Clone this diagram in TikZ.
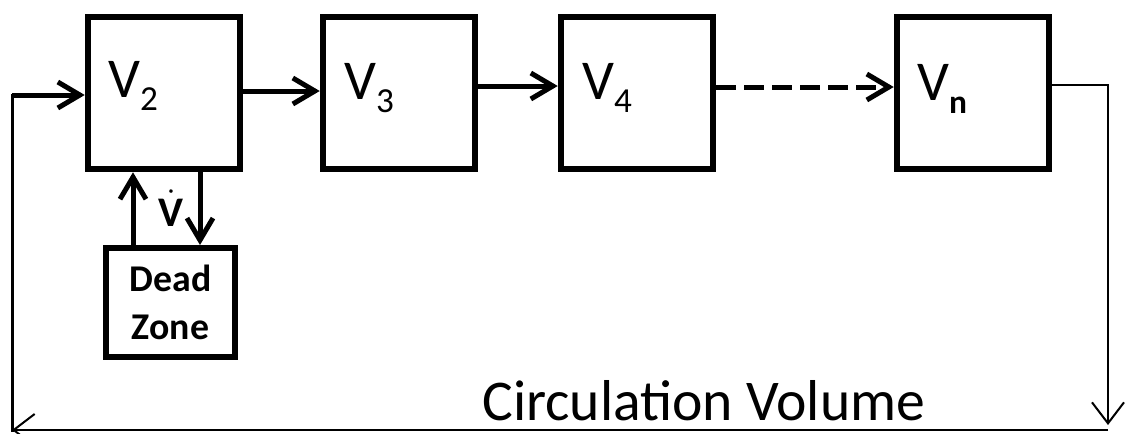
\documentclass[tikz,border=0pt]{standalone}
\usepackage{fontspec}
\setmainfont{Carlito}
\usetikzlibrary{arrows.meta}

\tikzset{
  vol/.style={draw,line width=1.3mm,minimum width=30.4mm,minimum height=30.4mm,inner sep=0pt},
  dead/.style={draw,line width=1.2mm,minimum width=25.8mm,minimum height=21.8mm,inner sep=0pt,align=center,
    font=\fontsize{21.5}{27}\selectfont\bfseries},
  vlab/.style={anchor=base west,inner sep=0pt,font=\fontsize{32}{32}\selectfont},
  flow/.style={line width=1mm,-{Straight Barb[length=4.4mm,width=5.2mm]}},
  back/.style={line width=.4mm,-{Straight Barb[length=4.2mm,width=6.4mm]}}
}
\newcommand\vsub[1]{\raisebox{-7.4pt}{\fontsize{20}{20}\selectfont#1}}

\begin{document}
\begin{tikzpicture}[x=.2mm,y=-.2mm]
\useasboundingbox (0,0) rectangle (1125,433);
% volumes
\node[vol] (V2) at (164,93) {};
\node[vol] (V3) at (399,93) {};
\node[vol] (V4) at (637,93) {};
\node[vol] (Vn) at (973,93) {};
\node[vlab] (L2) at ([xshift=4.6mm,yshift=-.9mm]V2.west) {V\vsub{2}};
\node[vlab] (L3) at ([xshift=4.8mm,yshift=-1.2mm]V3.west) {V\vsub{3}};
\node[vlab] (L4) at ([xshift=4.8mm,yshift=-1.2mm]V4.west) {V\vsub{4}};
\node[vlab] (Ln) at ([xshift=4.6mm,yshift=-1.4mm]Vn.west) {V\raisebox{-7.4pt}{\fontsize{19}{19}\selectfont\bfseries n}};
\node[dead] (DZ) at (170.5,302.5) {Dead\\Zone};
\node[inner sep=0pt,font=\fontsize{24}{24}\selectfont\bfseries] (vd) at (171,208) {$\dot{\mbox{V}}$};
\node[anchor=base west,inner sep=0pt,font=\fontsize{32.8}{32.8}\selectfont] (cv) at (482,420) {Circulation Volume};
% forward flow
\draw[flow] ([yshift=.4mm]V2.east) -- ([yshift=.4mm]V3.west);
\draw[flow] ([yshift=1.4mm]V3.east) -- ([yshift=1.4mm]V4.west);
\draw[flow,dash pattern=on 4mm off 1.6mm] ([yshift=1.2mm]V4.east) -- ([yshift=1.2mm]Vn.west);
% exchange with dead zone
\coordinate (up) at ([xshift=-7.5mm]DZ.north);
\coordinate (dn) at ([xshift=5.9mm]DZ.north);
\draw[flow] (up) -- (up |- V2.south);
\draw[flow] (dn |- V2.south) -- (dn);
% return path
\coordinate (r1) at (1108,85);
\coordinate (r2) at (1108,425);
\coordinate (b1) at (12,430);
\coordinate (l1) at (12,95);
\draw[back] (Vn.east |- r1) -- (r1) -- (r2);
\draw[back] (r2 |- b1) -- (b1);
\draw[line width=.6mm,line cap=rect] (b1) -- (l1);
\draw[flow] (l1) -- (l1 -| V2.west);
\end{tikzpicture}
\end{document}
